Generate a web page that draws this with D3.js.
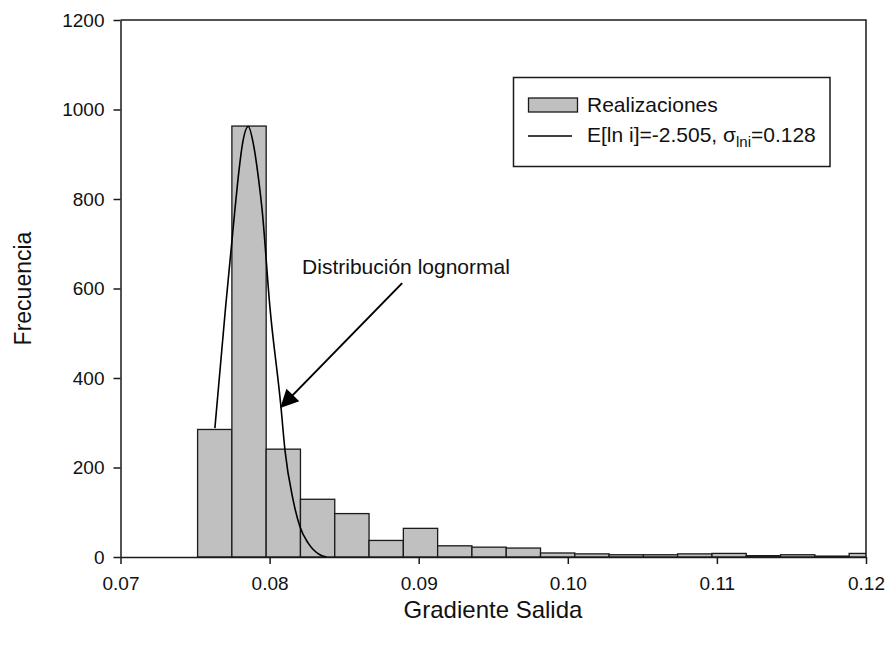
<!DOCTYPE html>
<html>
<head>
<meta charset="utf-8">
<script src="https://cdn.jsdelivr.net/npm/d3@7"></script>
<style>
  html, body { margin: 0; padding: 0; background: #fff; }
  svg { display: block; font-family: "Liberation Sans", Arial, sans-serif; }
</style>
</head>
<body>
<svg id="chart" width="893" height="645"></svg>
<script>
// Histogram bin edges (Gradiente Salida)
const binEdges = [0.07517, 0.07747, 0.07977, 0.08207, 0.08437, 0.08667, 0.08897,
  0.09127, 0.09357, 0.09587, 0.09817, 0.10047, 0.10277, 0.10507, 0.10737,
  0.10967, 0.11197, 0.11427, 0.11657, 0.11887, 0.12117];
// Frequency of each bin
const binCounts = [285, 963, 241, 129, 97, 37, 64, 25, 22, 20,
  9, 7, 5, 5, 7, 8, 3, 5, 2, 8];

// Fitted lognormal density, scaled to frequency
const curveX = [0.07633, 0.07705, 0.07767, 0.07790, 0.07819, 0.07857, 0.07890,
  0.07924, 0.07950, 0.08002, 0.08076, 0.08103, 0.08158, 0.08203, 0.08259,
  0.08337, 0.08382];
const curveY = [288, 559, 775, 850, 925, 962, 925,
  850, 775, 559, 336, 239, 127, 68, 31,
  5, 0];

// Axis ticks
const xTicks = [0.07, 0.08, 0.09, 0.10, 0.11, 0.12];
const yTicks = [0, 200, 400, 600, 800, 1000, 1200];

const svg = d3.select("#chart");
const x = d3.scaleLinear().domain([0.07, 0.12]).range([120.5, 866]);
const y = d3.scaleLinear().domain([0, 1200]).range([557, 20]);

// Clip marks to the plotting area
svg.append("defs").append("clipPath").attr("id", "plotClip")
  .append("rect")
  .attr("x", x(0.07)).attr("y", y(1200))
  .attr("width", x(0.12) - x(0.07)).attr("height", y(0) - y(1200));

svg.select("defs").append("marker")
  .attr("id", "arrowHead")
  .attr("viewBox", "0 0 10 10")
  .attr("refX", 9).attr("refY", 5)
  .attr("markerWidth", 11).attr("markerHeight", 9)
  .attr("markerUnits", "strokeWidth")
  .attr("orient", "auto")
  .append("path").attr("d", "M0,0 L10,5 L0,10 z").attr("fill", "#000");

const plot = svg.append("g").attr("clip-path", "url(#plotClip)");

// Bars
const bins = binCounts.map((c, i) => ({ x0: binEdges[i], x1: binEdges[i + 1], count: c }));
plot.selectAll("rect.bar").data(bins).join("rect")
  .attr("class", "bar")
  .attr("x", d => x(d.x0))
  .attr("y", d => y(d.count))
  .attr("width", d => x(d.x1) - x(d.x0))
  .attr("height", d => y(0) - y(d.count))
  .attr("fill", "#c0c0c0")
  .attr("stroke", "#1a1a1a")
  .attr("stroke-width", 1.3);

// Lognormal curve
const curvePts = curveX.map((v, i) => [v, curveY[i]]);
plot.append("path")
  .datum(curvePts)
  .attr("fill", "none")
  .attr("stroke", "#000")
  .attr("stroke-width", 1.6)
  .attr("d", d3.line().x(d => x(d[0])).y(d => y(d[1])).curve(d3.curveMonotoneX));

// Axes
const fontTick = 19;
const xAxis = svg.append("g")
  .attr("transform", `translate(0,${y(0)})`)
  .call(d3.axisBottom(x).tickValues(xTicks).tickFormat(d3.format(".2f"))
    .tickSize(7).tickSizeOuter(0).tickPadding(13));
const yAxis = svg.append("g")
  .attr("transform", `translate(${x(0.07)},0)`)
  .call(d3.axisLeft(y).tickValues(yTicks).tickFormat(d3.format("d"))
    .tickSize(7).tickSizeOuter(0).tickPadding(9));
[xAxis, yAxis].forEach(g => {
  g.selectAll("path.domain").attr("stroke", "#1a1a1a").attr("stroke-width", 1.5);
  g.selectAll(".tick line").attr("stroke", "#1a1a1a").attr("stroke-width", 1.5);
  g.selectAll(".tick text").attr("fill", "#111")
    .style("font-size", fontTick + "px")
    .style("font-family", '"Liberation Sans", Arial, sans-serif');
});

// Frame: top and right edges
svg.append("path")
  .attr("d", `M${x(0.07)},${y(1200)} H${x(0.12)} V${y(0)}`)
  .attr("fill", "none").attr("stroke", "#1a1a1a").attr("stroke-width", 1.5);

// Axis titles
svg.append("text")
  .attr("x", 493).attr("y", 618)
  .attr("text-anchor", "middle")
  .style("font-size", "24px").attr("fill", "#111")
  .text("Gradiente Salida");
svg.append("text")
  .attr("transform", `translate(31,${(y(0) + y(1200)) / 2}) rotate(-90)`)
  .attr("text-anchor", "middle")
  .style("font-size", "23px").attr("fill", "#111")
  .text("Frecuencia");

// Annotation
svg.append("text")
  .attr("x", x(0.08218)).attr("y", y(632))
  .style("font-size", "21px").attr("fill", "#111")
  .text("Distribución lognormal");
svg.append("line")
  .attr("x1", x(0.08889)).attr("y1", y(612))
  .attr("x2", x(0.08080)).attr("y2", y(336))
  .attr("stroke", "#000").attr("stroke-width", 2)
  .attr("marker-end", "url(#arrowHead)");

// Legend
const legend = svg.append("g");
legend.append("rect")
  .attr("x", 513.5).attr("y", 77.5).attr("width", 316.5).attr("height", 89)
  .attr("fill", "#fff").attr("stroke", "#1a1a1a").attr("stroke-width", 1.5);
legend.append("rect")
  .attr("x", 528.5).attr("y", 98).attr("width", 49).attr("height", 14)
  .attr("fill", "#c0c0c0").attr("stroke", "#1a1a1a").attr("stroke-width", 1.3);
legend.append("text")
  .attr("x", 587).attr("y", 112)
  .style("font-size", "21px").attr("fill", "#111")
  .text("Realizaciones");
legend.append("line")
  .attr("x1", 528).attr("x2", 572).attr("y1", 136).attr("y2", 136)
  .attr("stroke", "#000").attr("stroke-width", 1.5);
const lt = legend.append("text")
  .attr("x", 587).attr("y", 142)
  .style("font-size", "21px").attr("fill", "#111");
lt.append("tspan").text("E[ln i]=-2.505, σ");
lt.append("tspan").attr("dy", 5).style("font-size", "15px").text("lni");
lt.append("tspan").attr("dy", -5).text("=0.128");
</script>
</body>
</html>
